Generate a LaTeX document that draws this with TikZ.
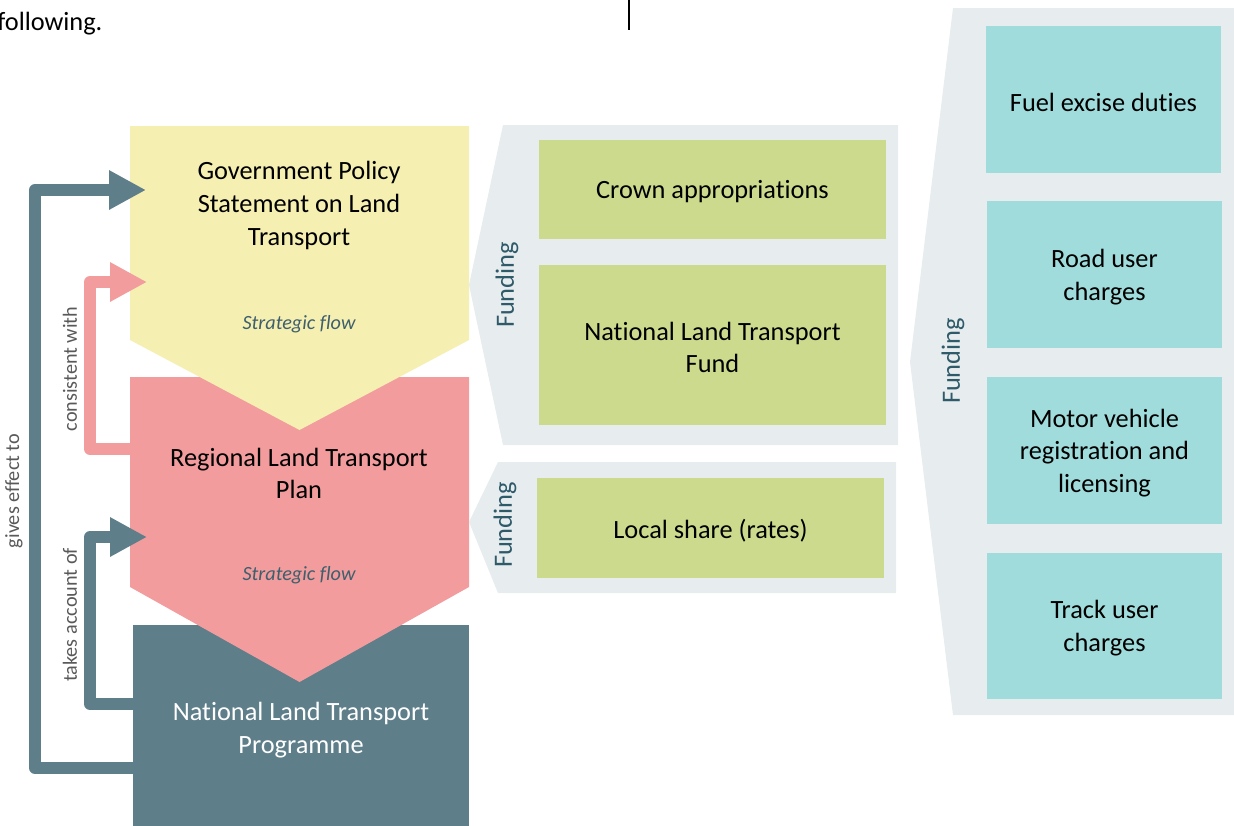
\documentclass[tikz,border=0pt]{standalone}
\usepackage{fontspec}
\setmainfont{Carlito}[Ligatures=NoCommon, Contextuals=NoAlternate]
\usetikzlibrary{arrows.meta}
\definecolor{cYellow}{HTML}{F5EFB2}
\definecolor{cPink}{HTML}{F29C9D}
\definecolor{cDark}{HTML}{5E7E8A}
\definecolor{cGreen}{HTML}{CCDA8E}
\definecolor{cTeal}{HTML}{A0DCDC}
\definecolor{cPanel}{HTML}{E7ECEE}
\definecolor{cFund}{HTML}{2E5A6A}
\definecolor{cFlow}{HTML}{3E5F6C}
\definecolor{cLabel}{HTML}{595959}
\begin{document}
\begin{tikzpicture}[x=0.02cm,y=-0.02cm,
  body/.style={font=\fontsize{15}{18.7}\selectfont, align=center, text=black, inner sep=0pt},
  smalllbl/.style={font=\fontsize{11.5}{14}\selectfont, text=cLabel, inner sep=0pt, rotate=90},
  flowlbl/.style={font=\fontsize{11.5}{14}\selectfont\itshape, text=cFlow, inner sep=0pt},
  fundlbl/.style={font=\fontsize{15}{18}\selectfont, text=cFund, inner sep=0pt, rotate=90},
  gbox/.style={fill=cGreen, inner sep=0pt, minimum width=6.94cm},
  tbox/.style={fill=cTeal, inner sep=0pt, minimum width=4.7cm},
  conn/.style={line width=0.24cm, line join=round, -{Triangle[length=0.74cm,width=0.74cm]}}
]
\useasboundingbox (0,0) rectangle (1234,825);

% top text fragment
\node[anchor=base west, inner sep=0pt, font=\fontsize{15}{18}\selectfont] (following) at (-3,30) {following.};
\coordinate (vtop) at (629,0);
\coordinate (vbot) at (629,30);
\draw[line width=0.6pt] (vtop) -- (vbot);

% left column shapes
\fill[cDark] (133,625) rectangle (469,826);
\fill[cPink] (130,377) -- (469,377) -- (469,587) -- (299.5,682) -- (130,587) -- cycle;
\fill[cYellow] (130,126) -- (469,126) -- (469,340) -- (299.5,430) -- (130,340) -- cycle;

\node[body] (gps) at (299,205.5) {Government Policy\\Statement on Land\\Transport};
\node[flowlbl] (flow1) at (299,324) {Strategic flow};
\node[body] (rltp) at (299,473.5) {Regional Land Transport\\Plan};
\node[flowlbl] (flow2) at (299,575) {Strategic flow};
\node[body, text=white] (nltp) at (301,730.5) {National Land Transport\\Programme};

% connectors
\coordinate (geS) at (133,768);
\coordinate (geA) at (35,768);
\coordinate (geB) at (35,190);
\coordinate (geT) at (146,190);
\draw[conn, cDark] (geS) -- (geA) -- (geB) -- (geT);

\coordinate (cwS) at (131,449);
\coordinate (cwA) at (90,449);
\coordinate (cwB) at (90,282);
\coordinate (cwT) at (147,282);
\draw[conn, cPink] (cwS) -- (cwA) -- (cwB) -- (cwT);

\coordinate (taS) at (134,704);
\coordinate (taA) at (90,704);
\coordinate (taB) at (90,537);
\coordinate (taT) at (147,537);
\draw[conn, cDark] (taS) -- (taA) -- (taB) -- (taT);

\node[smalllbl] (lge) at (14,491) {gives effect to};
\node[smalllbl] (lcw) at (70,369) {consistent with};
\node[smalllbl] (lta) at (70,615) {takes account of};

% funding panels
\fill[cPanel] (503,125) -- (898,125) -- (898,445) -- (503,445) -- (469,285) -- cycle;
\fill[cPanel] (498,462) -- (896,462) -- (896,593) -- (498,593) -- (469,522) -- cycle;
\fill[cPanel] (953,8) -- (1234,8) -- (1234,715) -- (953,715) -- (910,362) -- cycle;

\node[fundlbl] (f1) at (507,285) {Funding};
\node[fundlbl] (f2) at (505,525) {Funding};
\node[fundlbl] (f3) at (953,361) {Funding};

\node[gbox, minimum height=1.98cm] (crown) at (712.5,189.5) {};
\node[gbox, minimum height=3.2cm] (nltf) at (712.5,345) {};
\node[gbox, minimum height=2.0cm] (local) at (710.5,528) {};
\node[body] (crownT) at ([yshift=-0.05cm]crown.center) {Crown appropriations};
\node[body] (nltfT) at ([yshift=-0.05cm]nltf.center) {National Land Transport\\Fund};
\node[body] (localT) at ([yshift=-0.05cm]local.center) {Local share (rates)};

\node[tbox, minimum height=2.94cm] (fuel) at (1103.5,99.5) {};
\node[tbox, minimum height=2.94cm] (road) at (1104.5,274.5) {};
\node[tbox, minimum height=2.94cm] (motor) at (1104.5,450.5) {};
\node[tbox, minimum height=2.92cm] (track) at (1104.5,626) {};
\node[body] (fuelT) at ([yshift=-0.05cm]fuel.center) {Fuel excise duties};
\node[body] (roadT) at ([yshift=-0.05cm]road.center) {Road user\\charges};
\node[body] (motorT) at ([yshift=-0.05cm]motor.center) {Motor vehicle\\registration and\\licensing};
\node[body] (trackT) at ([yshift=-0.05cm]track.center) {Track user\\charges};
\end{tikzpicture}
\end{document}
